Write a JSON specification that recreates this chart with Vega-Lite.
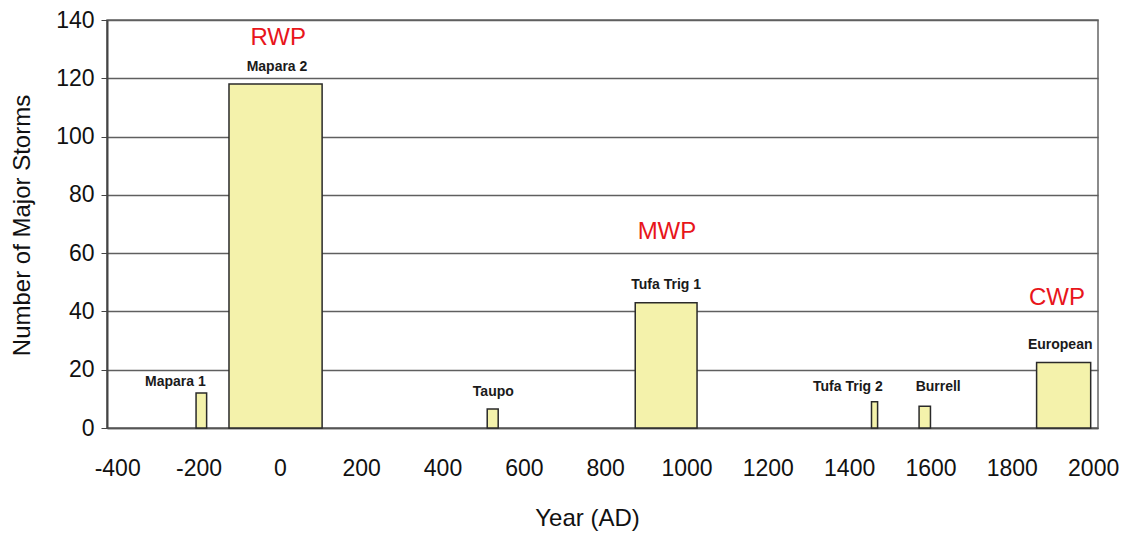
{
  "$schema": "https://vega.github.io/schema/vega-lite/v6.json",
  "width": 991,
  "height": 408,
  "autosize": {"type": "none"},
  "padding": {"left": 107, "top": 20, "right": 30, "bottom": 105},
  "background": "white",
  "config": {
    "font": "Liberation Sans",
    "view": {"stroke": "#666666", "strokeWidth": 1.5}
  },
  "datasets": {
    "bars": [
      {"site": "Mapara 1", "start": -206, "end": -180, "storms": 12},
      {"site": "Mapara 2", "start": -125, "end": 104, "storms": 118},
      {"site": "Taupo", "start": 510, "end": 537, "storms": 6.5},
      {"site": "Tufa Trig 1", "start": 874, "end": 1026, "storms": 43},
      {"site": "Tufa Trig 2", "start": 1455, "end": 1470, "storms": 9},
      {"site": "Burrell", "start": 1572, "end": 1600, "storms": 7.5},
      {"site": "European", "start": 1861, "end": 1994, "storms": 22.5}
    ],
    "labels": [
      {"site": "Mapara 1", "year": -257, "level": 15.8},
      {"site": "Mapara 2", "year": -7, "level": 123.9},
      {"site": "Taupo", "year": 525, "level": 12.4},
      {"site": "Tufa Trig 1", "year": 950, "level": 49.1},
      {"site": "Tufa Trig 2", "year": 1397, "level": 14.1},
      {"site": "Burrell", "year": 1619, "level": 14.1},
      {"site": "European", "year": 1919, "level": 28.5}
    ],
    "periods": [
      {"period": "RWP", "year": -4, "level": 133.8},
      {"period": "MWP", "year": 952, "level": 67.3},
      {"period": "CWP", "year": 1911, "level": 44.6}
    ]
  },
  "layer": [
    {
      "data": {"name": "bars"},
      "mark": {"type": "rect", "fill": "#f4f2ab", "stroke": "#2a2a2a", "strokeWidth": 1.5},
      "encoding": {
        "x": {
          "field": "start",
          "type": "quantitative",
          "scale": {"domain": [-425, 2012], "nice": false, "zero": false},
          "axis": {
            "values": [-400, -200, 0, 200, 400, 600, 800, 1000, 1200, 1400, 1600, 1800, 2000],
            "labelExpr": "'' + datum.value",
            "title": "Year (AD)",
            "grid": false,
            "ticks": false,
            "labelFontSize": 23,
            "labelColor": "#111111",
            "labelPadding": 29,
            "labelFlush": false,
            "labelOverlap": false,
            "domainColor": "#555555",
            "domainWidth": 1.5,
            "titleFontSize": 24,
            "titleFontWeight": "normal",
            "titleColor": "#111111",
            "titleX": 480,
            "titleY": 90,
            "titleBaseline": "middle",
            "titleAlign": "center"
          }
        },
        "x2": {"field": "end"},
        "y": {
          "field": "storms",
          "type": "quantitative",
          "scale": {"domain": [0, 140], "nice": false},
          "axis": {
            "values": [0, 20, 40, 60, 80, 100, 120, 140],
            "title": "Number of Major Storms",
            "grid": true,
            "gridColor": "#5f5f5f",
            "gridWidth": 1.5,
            "tickSize": 6,
            "tickColor": "#444444",
            "labelFontSize": 23,
            "labelColor": "#111111",
            "labelPadding": 7,
            "domainColor": "#444444",
            "domainWidth": 2,
            "titleFontSize": 24,
            "titleFontWeight": "normal",
            "titleColor": "#111111",
            "titleX": -85,
            "titleY": 205,
            "titleAngle": 270,
            "titleBaseline": "middle",
            "titleAlign": "center"
          }
        },
        "y2": {"datum": 0}
      }
    },
    {
      "data": {"name": "labels"},
      "mark": {"type": "text", "fontSize": 14, "fontWeight": "bold", "color": "#1a1a1a", "baseline": "middle", "align": "center"},
      "encoding": {
        "x": {"field": "year", "type": "quantitative"},
        "y": {"field": "level", "type": "quantitative"},
        "text": {"field": "site"}
      }
    },
    {
      "data": {"name": "periods"},
      "mark": {"type": "text", "fontSize": 24, "color": "#e8151b", "baseline": "middle", "align": "center"},
      "encoding": {
        "x": {"field": "year", "type": "quantitative"},
        "y": {"field": "level", "type": "quantitative"},
        "text": {"field": "period"}
      }
    }
  ]
}
